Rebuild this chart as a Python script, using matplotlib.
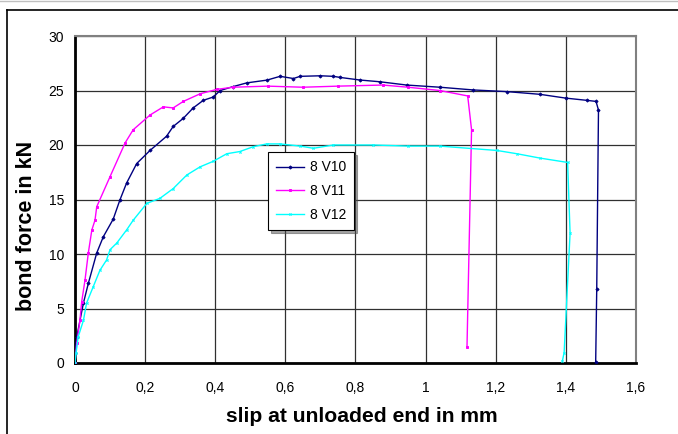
import matplotlib.pyplot as plt
from matplotlib.lines import Line2D

plt.rcParams['font.family'] = ['Liberation Sans', 'DejaVu Sans']

# data (slip in mm, bond force in kN)
slip_v10 = [0.0, 0.0, 0.005, 0.024, 0.038, 0.062, 0.081, 0.109, 0.128, 0.147, 0.176,
            0.214, 0.261, 0.28, 0.309, 0.337, 0.366, 0.394, 0.414, 0.45, 0.49, 0.547,
            0.585, 0.623, 0.642, 0.7, 0.737, 0.756, 0.813, 0.87, 0.946, 1.041, 1.136,
            1.231, 1.326, 1.40, 1.459, 1.486, 1.493, 1.488, 1.485]
force_v10 = [0.0, 0.9, 2.4, 5.5, 7.3, 10.1, 11.6, 13.2, 14.95, 16.5, 18.3,
             19.5, 20.8, 21.7, 22.45, 23.4, 24.1, 24.4, 25.0, 25.35, 25.7, 25.95,
             26.3, 26.1, 26.3, 26.35, 26.3, 26.2, 25.96, 25.8, 25.5, 25.3, 25.05,
             24.9, 24.65, 24.3, 24.1, 24.0, 23.2, 6.75, 0.06]

slip_v11 = [0.0, 0.005, 0.014, 0.019, 0.0285, 0.038, 0.048, 0.057, 0.062, 0.1,
            0.143, 0.166, 0.214, 0.252, 0.28, 0.309, 0.357, 0.404, 0.45, 0.55,
            0.65, 0.75, 0.878, 0.95, 1.04, 1.12, 1.131, 1.118]
force_v11 = [0.0, 1.8, 3.9, 5.6, 7.6, 10.1, 12.2, 13.1, 14.34, 17.1,
             20.2, 21.4, 22.75, 23.5, 23.4, 24.0, 24.7, 25.1, 25.3, 25.4,
             25.3, 25.4, 25.5, 25.3, 25.0, 24.5, 21.4, 1.5]

slip_v12 = [0.0, 0.003, 0.009, 0.024, 0.033, 0.052, 0.071, 0.09, 0.1, 0.119,
            0.147, 0.166, 0.205, 0.242, 0.28, 0.319, 0.357, 0.394, 0.433, 0.47,
            0.509, 0.547, 0.585, 0.642, 0.68, 0.737, 0.85, 0.95, 1.04, 1.203,
            1.26, 1.326, 1.405, 1.412, 1.395, 1.39]
force_v12 = [0.0, 0.9, 2.4, 3.9, 5.5, 7.0, 8.5, 9.45, 10.4, 11.0,
             12.2, 13.1, 14.65, 15.1, 16.0, 17.25, 18.0, 18.5, 19.2, 19.4,
             19.85, 20.1, 20.1, 19.9, 19.7, 20.0, 20.0, 19.9, 19.9, 19.5,
             19.2, 18.8, 18.4, 11.9, 0.95, 0.18]

series = [("8 V10", slip_v10, force_v10, "#000080", "D"),
          ("8 V11", slip_v11, force_v11, "#ff00ff", "s"),
          ("8 V12", slip_v12, force_v12, "#00ffff", "x")]

x_ticks = [0, 0.2, 0.4, 0.6, 0.8, 1.0, 1.2, 1.4, 1.6]
x_tick_labels = ["0", "0,2", "0,4", "0,6", "0,8", "1", "1,2", "1,4", "1,6"]
y_ticks = [0, 5, 10, 15, 20, 25, 30]

fig = plt.figure(figsize=(6.78, 4.34), dpi=100)
ax = fig.add_axes([75/678, 1-363/434, 561/678, 327/434])

for name, x, y, col, mk in series:
    ax.plot(x, y, color=col, lw=1.0, marker=mk, markersize=1.6, markeredgewidth=0.7,
            label=name, zorder=3)

ax.set_xlim(0, 1.6)
ax.set_ylim(0, 30)
ax.set_xticks(x_ticks)
ax.set_xticklabels(x_tick_labels)
ax.set_yticks(y_ticks)
ax.tick_params(length=0, labelsize=10)
ax.tick_params(axis='x', pad=13)
ax.tick_params(axis='y', pad=8)
ax.grid(True, color='#303030', lw=0.9)
ax.set_axisbelow(True)

for s in ['top', 'right']:
    ax.spines[s].set_color('#808080')
    ax.spines[s].set_linewidth(1.5)
for s in ['left', 'bottom']:
    ax.spines[s].set_color('black')
    ax.spines[s].set_linewidth(2)

ax.set_xlabel('slip at unloaded end in mm', fontsize=15.2, fontweight='bold', va='center')
ax.xaxis.set_label_coords((361.5 - 75) / 561, (363 - 417) / 327)
ax.set_ylabel('bond force in kN', fontsize=15.5, fontweight='bold', va='center')
ax.yaxis.set_label_coords((26.5 - 75) / 561, (363 - 226) / 327)

leg = ax.legend(loc='upper left', bbox_to_anchor=(0.344, 0.645), borderaxespad=0,
                fancybox=False, edgecolor='black', shadow=True, fontsize=10,
                handlelength=2.0, handletextpad=0.4, framealpha=1, borderpad=0.6,
                labelspacing=0.7)
leg.get_frame().set_linewidth(0.8)

# outer chart frame
fig.add_artist(Line2D([7/678, 1], [1-10/434, 1-10/434], color='black', lw=1.2))
fig.add_artist(Line2D([7/678, 7/678], [0, 1-10/434], color='black', lw=1.2))
fig.add_artist(Line2D([0, 1], [1-0.5/434, 1-0.5/434], color='#c0c0c0', lw=1))

fig.savefig('out.png', dpi=100)
